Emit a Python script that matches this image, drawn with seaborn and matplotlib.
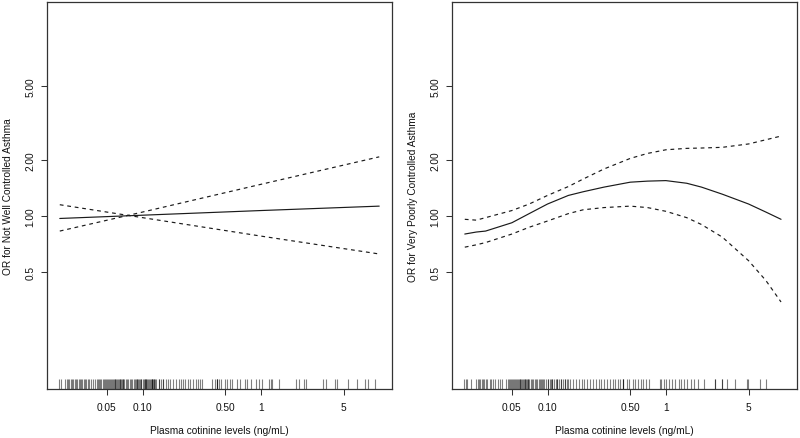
import numpy as np
import pandas as pd
import matplotlib
matplotlib.use("Agg")
import matplotlib.pyplot as plt
from matplotlib.ticker import FixedLocator, FixedFormatter, NullLocator
import seaborn as sns

# ---------------- data ----------------
# Left panel: Not Well Controlled Asthma
x_left = [0.02, 0.1, 1.0, 10.0]
or_left = [0.97, 1.01, 1.07, 1.13]
ci_a_left = [1.15, 0.98, 0.78, 0.625]
ci_b_left = [0.83, 1.05, 1.48, 2.08]

# Right panel: Very Poorly Controlled Asthma
x_right = [0.02, 0.025, 0.03, 0.05, 0.07, 0.1, 0.15, 0.2, 0.3, 0.5, 0.7,
           1.0, 1.5, 2.0, 3.0, 5.0, 7.0, 9.4]
or_right = [0.80, 0.82, 0.83, 0.92, 1.03, 1.16, 1.29, 1.35, 1.43, 1.52, 1.54,
            1.55, 1.50, 1.43, 1.31, 1.16, 1.05, 0.96]
upper_right = [0.96, 0.95, 0.98, 1.07, 1.16, 1.29, 1.44, 1.58, 1.79, 2.04, 2.17,
               2.27, 2.31, 2.32, 2.34, 2.44, 2.57, 2.69]
lower_right = [0.68, 0.70, 0.72, 0.80, 0.87, 0.94, 1.03, 1.08, 1.11, 1.13, 1.11,
               1.06, 0.98, 0.90, 0.77, 0.575, 0.45, 0.345]

# Rug (observed plasma cotinine values, ng/mL)
rug_left = [0.0198, 0.0205, 0.0222, 0.0229, 0.0234, 0.0240, 0.0247, 0.0253, 0.0260,
            0.0267, 0.0274, 0.0281, 0.0288, 0.0296, 0.0303, 0.0311, 0.0319, 0.0327,
            0.0336, 0.0345, 0.0354, 0.0364, 0.0378,
            0.040, 0.041, 0.042, 0.043, 0.044, 0.045, 0.046, 0.047, 0.048, 0.049,
            0.050, 0.051, 0.052, 0.053, 0.054, 0.055, 0.056, 0.057, 0.058, 0.059,
            0.060, 0.061, 0.062, 0.063, 0.064, 0.065, 0.066, 0.067, 0.068, 0.069,
            0.070, 0.072, 0.074, 0.076, 0.078, 0.080, 0.082, 0.084, 0.086, 0.088,
            0.090, 0.090, 0.092, 0.094, 0.096, 0.098, 0.098, 0.100, 0.102, 0.104,
            0.104, 0.106, 0.108, 0.110, 0.112, 0.114, 0.116, 0.118, 0.120, 0.121,
            0.121, 0.122, 0.124, 0.126, 0.128, 0.130,
            0.137, 0.137, 0.144, 0.150, 0.150, 0.158, 0.163, 0.171, 0.180, 0.192,
            0.202, 0.211, 0.218, 0.230, 0.240, 0.252, 0.265, 0.283, 0.297, 0.307,
            0.321,
            0.388, 0.410, 0.427, 0.427, 0.427, 0.444, 0.461, 0.498, 0.521, 0.546,
            0.574, 0.632, 0.662, 0.734, 0.767, 0.819, 0.902, 0.962, 1.03, 1.17,
            1.21, 1.24, 1.42, 1.98, 2.09, 2.30, 2.40, 3.38, 3.54, 4.24, 4.38, 5.49,
            6.44, 7.58, 8.09, 9.20]

rug_right = [0.0197, 0.0203, 0.0210, 0.0224, 0.0251, 0.0258, 0.0265, 0.0271, 0.0278,
             0.0286, 0.0293, 0.0300, 0.0308, 0.0324, 0.0333, 0.0346, 0.0362, 0.0378,
             0.0398, 0.0411,
             0.045, 0.046, 0.047, 0.048, 0.049, 0.050, 0.051, 0.052, 0.053, 0.054,
             0.055, 0.056, 0.057, 0.058, 0.059, 0.060, 0.061, 0.062, 0.063, 0.064,
             0.065, 0.066, 0.067, 0.068, 0.069, 0.070, 0.072, 0.074, 0.076, 0.078,
             0.080, 0.082, 0.084, 0.086, 0.088, 0.090, 0.092, 0.094,
             0.097, 0.100, 0.100, 0.104, 0.108, 0.110, 0.110, 0.113, 0.117, 0.120,
             0.120, 0.125, 0.130, 0.130, 0.134, 0.140, 0.140, 0.145, 0.150, 0.156,
             0.165, 0.175, 0.185, 0.195, 0.205, 0.215, 0.228, 0.240, 0.255, 0.270,
             0.285, 0.300, 0.318, 0.335, 0.355,
             0.374, 0.391, 0.411, 0.432, 0.432, 0.432, 0.467, 0.492, 0.531, 0.548,
             0.585, 0.611, 0.643, 0.685, 0.722, 0.886, 0.914, 0.957, 1.01, 1.07,
             1.13, 1.20, 1.28, 1.34, 1.43, 1.52, 1.63, 1.73, 1.88, 2.10, 2.62, 2.62,
             2.99, 2.99, 3.29, 3.85, 4.82, 4.98, 6.22, 7.08]

x_ticks = [0.05, 0.1, 0.5, 1, 5]
x_tick_labels = ["0.05", "0.10", "0.50", "1", "5"]
y_ticks = [0.5, 1, 2, 5]
y_tick_labels = ["0.5", "1.00", "2.00", "5.00"]

x_label = "Plasma cotinine levels (ng/mL)"
y_label_left = "OR for Not Well Controlled Asthma"
y_label_right = "OR for Very Poorly Controlled Asthma"

# ---------------- style ----------------
sns.set_style("white")
plt.rcParams["font.family"] = ["Liberation Sans", "DejaVu Sans"]

W, H = 800, 439
fig = plt.figure(figsize=(W / 100, H / 100), dpi=100)

ax_l = fig.add_axes([47 / W, 1 - 390 / H, 345 / W, 387 / H])
ax_r = fig.add_axes([452 / W, 1 - 390 / H, 345 / W, 387 / H])

line_col = "#1a1a1a"
dash = (0, (3.2, 3.2))


def panel(ax, x, est, lo, hi, rug, ylab):
    ax.set_xscale("log")
    ax.set_yscale("log")
    df = pd.DataFrame({"x": x, "est": est, "lo": lo, "hi": hi})
    sns.lineplot(data=df, x="x", y="est", ax=ax, color=line_col, linewidth=0.85)
    sns.lineplot(data=df, x="x", y="lo", ax=ax, color=line_col, linewidth=0.85,
                 linestyle=dash)
    sns.lineplot(data=df, x="x", y="hi", ax=ax, color=line_col, linewidth=0.85,
                 linestyle=dash)
    sns.rugplot(x=rug, ax=ax, height=0.026, color="black", alpha=0.5,
                linewidth=0.8)
    ax.set_xlim(10 ** -1.807, 10 ** 1.108)
    ax.set_ylim(10 ** -0.930, 10 ** 1.1505)

    ax.xaxis.set_major_locator(FixedLocator(x_ticks))
    ax.xaxis.set_major_formatter(FixedFormatter(x_tick_labels))
    ax.xaxis.set_minor_locator(NullLocator())
    ax.yaxis.set_major_locator(FixedLocator(y_ticks))
    ax.yaxis.set_major_formatter(FixedFormatter(y_tick_labels))
    ax.yaxis.set_minor_locator(NullLocator())

    ax.tick_params(axis="both", which="major", direction="out", length=4.5,
                   width=0.75, color="#333333", labelsize=7.3, labelcolor="#111111")
    ax.tick_params(axis="x", pad=5, bottom=True)
    ax.tick_params(axis="y", pad=4, left=True)
    for lab in ax.get_yticklabels():
        lab.set_rotation(90)
        lab.set_va("center")

    for s in ax.spines.values():
        s.set_visible(True)
        s.set_color("#333333")
        s.set_linewidth(0.9)

    ax.set_xlabel(x_label, fontsize=7.3, color="#111111")
    ax.set_ylabel(ylab, fontsize=7.3, color="#111111")
    ax.xaxis.set_label_coords(0.5, -36 / 387)
    ax.yaxis.set_label_coords(-34 / 345, 0.5)
    ax.set_facecolor("white")


panel(ax_l, x_left, or_left, ci_a_left, ci_b_left, rug_left, y_label_left)
panel(ax_r, x_right, or_right, lower_right, upper_right, rug_right, y_label_right)

fig.savefig("out.png", dpi=100, facecolor="white")
